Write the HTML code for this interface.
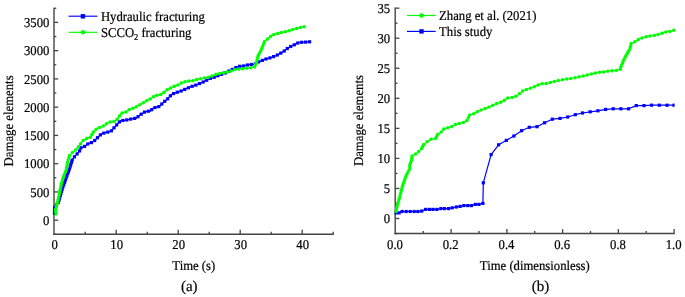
<!DOCTYPE html>
<html lang="en"><head><meta charset="utf-8"><title>Damage elements</title>
<style>html,body{margin:0;padding:0;background:#fff}body{width:685px;height:297px;overflow:hidden}text{stroke:#000;stroke-width:.2px}</style>
</head><body>
<svg width="685" height="297" viewBox="0 0 685 297" style="display:block" font-family="'Liberation Serif', serif" font-size="13.5" fill="#000" text-rendering="geometricPrecision">
<rect width="685" height="297" fill="#fff"/>
<path d="M54.00,7.67V234.90" stroke="#444" stroke-width="1.4" fill="none"/><path d="M53.30,234.20H333.80" stroke="#444" stroke-width="1.5" fill="none"/><path d="M54.00,220.20h4.2" stroke="#444" stroke-width="1.3"/><path d="M54.00,191.94h4.2" stroke="#444" stroke-width="1.3"/><path d="M54.00,163.69h4.2" stroke="#444" stroke-width="1.3"/><path d="M54.00,135.43h4.2" stroke="#444" stroke-width="1.3"/><path d="M54.00,107.17h4.2" stroke="#444" stroke-width="1.3"/><path d="M54.00,78.91h4.2" stroke="#444" stroke-width="1.3"/><path d="M54.00,50.66h4.2" stroke="#444" stroke-width="1.3"/><path d="M54.00,22.40h4.2" stroke="#444" stroke-width="1.3"/><path d="M54.00,234.33h2.3" stroke="#444" stroke-width="1.3"/><path d="M54.00,206.07h2.3" stroke="#444" stroke-width="1.3"/><path d="M54.00,177.81h2.3" stroke="#444" stroke-width="1.3"/><path d="M54.00,149.56h2.3" stroke="#444" stroke-width="1.3"/><path d="M54.00,121.30h2.3" stroke="#444" stroke-width="1.3"/><path d="M54.00,93.04h2.3" stroke="#444" stroke-width="1.3"/><path d="M54.00,64.79h2.3" stroke="#444" stroke-width="1.3"/><path d="M54.00,36.53h2.3" stroke="#444" stroke-width="1.3"/><path d="M54.00,8.27h2.3" stroke="#444" stroke-width="1.3"/><path d="M116.20,234.20v-4.4" stroke="#444" stroke-width="1.3"/><path d="M178.20,234.20v-4.4" stroke="#444" stroke-width="1.3"/><path d="M240.20,234.20v-4.4" stroke="#444" stroke-width="1.3"/><path d="M302.20,234.20v-4.4" stroke="#444" stroke-width="1.3"/><path d="M85.20,234.20v-2.5" stroke="#444" stroke-width="1.3"/><path d="M147.20,234.20v-2.5" stroke="#444" stroke-width="1.3"/><path d="M209.20,234.20v-2.5" stroke="#444" stroke-width="1.3"/><path d="M271.20,234.20v-2.5" stroke="#444" stroke-width="1.3"/><path d="M333.20,234.20v-2.5" stroke="#444" stroke-width="1.3"/><text transform="translate(54.7,249.3) scale(0.94,1)" text-anchor="middle">0</text><text transform="translate(116.7,249.3) scale(0.94,1)" text-anchor="middle">10</text><text transform="translate(178.7,249.3) scale(0.94,1)" text-anchor="middle">20</text><text transform="translate(240.7,249.3) scale(0.94,1)" text-anchor="middle">30</text><text transform="translate(302.7,249.3) scale(0.94,1)" text-anchor="middle">40</text><text transform="translate(49.4,224.8) scale(0.94,1)" text-anchor="end">0</text><text transform="translate(49.4,196.5) scale(0.94,1)" text-anchor="end">500</text><text transform="translate(49.4,168.3) scale(0.94,1)" text-anchor="end">1000</text><text transform="translate(49.4,140.0) scale(0.94,1)" text-anchor="end">1500</text><text transform="translate(49.4,111.8) scale(0.94,1)" text-anchor="end">2000</text><text transform="translate(49.4,83.5) scale(0.94,1)" text-anchor="end">2500</text><text transform="translate(49.4,55.3) scale(0.94,1)" text-anchor="end">3000</text><text transform="translate(49.4,27.0) scale(0.94,1)" text-anchor="end">3500</text>
<polyline points="54.5,213.2 54.6,207.5 56.5,205.0 58.3,202.5 60.2,196.0 62.2,189.0 64.1,183.7 65.9,178.3 67.5,174.2 69.5,168.9 70.9,164.1 72.2,160.1 74.9,156.1 77.6,153.4 79.6,150.9 80.9,147.8 84.9,146.3 88.3,143.5 91.0,142.9 94.3,140.9 97.7,137.5 101.1,134.2 105.1,132.6 108.5,131.9 110.9,131.3 112.7,129.2 115.6,126.2 118.0,123.3 120.4,120.9 124.5,120.3 129.2,119.4 132.7,118.6 136.3,118.2 139.2,115.6 142.2,113.5 145.4,111.6 150.4,111.0 153.4,108.0 159.5,106.4 163.5,102.3 167.6,98.9 171.6,94.4 176.7,92.4 181.7,90.8 186.8,88.4 191.8,86.4 196.9,84.7 201.9,82.7 205.0,81.1 210.1,78.5 215.2,76.9 220.2,74.8 225.3,72.8 230.3,70.4 234.3,68.4 238.4,66.4 243.4,66.0 248.5,64.7 254.5,64.3 258.6,61.9 264.6,59.4 270.3,57.8 275.6,55.8 280.0,53.6 283.7,51.4 287.3,48.5 290.9,46.4 295.5,44.2 299.1,42.4 303.6,42.2 309.6,41.8" fill="none" stroke="#0000ff" stroke-width="1.3" stroke-linejoin="round" stroke-linecap="square"/>
<g stroke="none"><rect x="52.9" y="211.6" width="3.2" height="3.2" fill="#0000ff"/><rect x="52.9" y="208.8" width="3.2" height="3.2" fill="#0000ff"/><rect x="53.0" y="205.9" width="3.2" height="3.2" fill="#0000ff"/><rect x="54.9" y="203.4" width="3.2" height="3.2" fill="#0000ff"/><rect x="56.7" y="200.9" width="3.2" height="3.2" fill="#0000ff"/><rect x="57.4" y="198.6" width="3.2" height="3.2" fill="#0000ff"/><rect x="58.0" y="196.4" width="3.2" height="3.2" fill="#0000ff"/><rect x="58.7" y="194.1" width="3.2" height="3.2" fill="#0000ff"/><rect x="59.3" y="191.9" width="3.2" height="3.2" fill="#0000ff"/><rect x="60.0" y="189.6" width="3.2" height="3.2" fill="#0000ff"/><rect x="60.6" y="187.4" width="3.2" height="3.2" fill="#0000ff"/><rect x="61.4" y="185.1" width="3.2" height="3.2" fill="#0000ff"/><rect x="62.2" y="182.9" width="3.2" height="3.2" fill="#0000ff"/><rect x="63.0" y="180.7" width="3.2" height="3.2" fill="#0000ff"/><rect x="63.7" y="178.5" width="3.2" height="3.2" fill="#0000ff"/><rect x="64.5" y="176.3" width="3.2" height="3.2" fill="#0000ff"/><rect x="65.3" y="174.1" width="3.2" height="3.2" fill="#0000ff"/><rect x="66.2" y="171.9" width="3.2" height="3.2" fill="#0000ff"/><rect x="67.0" y="169.7" width="3.2" height="3.2" fill="#0000ff"/><rect x="67.8" y="167.5" width="3.2" height="3.2" fill="#0000ff"/><rect x="68.5" y="165.2" width="3.2" height="3.2" fill="#0000ff"/><rect x="69.2" y="163.0" width="3.2" height="3.2" fill="#0000ff"/><rect x="69.9" y="160.7" width="3.2" height="3.2" fill="#0000ff"/><rect x="70.6" y="158.5" width="3.2" height="3.2" fill="#0000ff"/><rect x="72.8" y="155.2" width="3.2" height="3.2" fill="#0000ff"/><rect x="75.5" y="152.3" width="3.2" height="3.2" fill="#0000ff"/><rect x="78.0" y="149.3" width="3.2" height="3.2" fill="#0000ff"/><rect x="79.3" y="146.2" width="3.2" height="3.2" fill="#0000ff"/><rect x="83.0" y="144.8" width="3.2" height="3.2" fill="#0000ff"/><rect x="86.1" y="142.4" width="3.2" height="3.2" fill="#0000ff"/><rect x="89.8" y="141.0" width="3.2" height="3.2" fill="#0000ff"/><rect x="93.1" y="138.9" width="3.2" height="3.2" fill="#0000ff"/><rect x="95.9" y="136.1" width="3.2" height="3.2" fill="#0000ff"/><rect x="98.8" y="133.3" width="3.2" height="3.2" fill="#0000ff"/><rect x="102.3" y="131.5" width="3.2" height="3.2" fill="#0000ff"/><rect x="106.1" y="130.5" width="3.2" height="3.2" fill="#0000ff"/><rect x="109.8" y="129.2" width="3.2" height="3.2" fill="#0000ff"/><rect x="112.4" y="126.2" width="3.2" height="3.2" fill="#0000ff"/><rect x="115.1" y="123.3" width="3.2" height="3.2" fill="#0000ff"/><rect x="117.8" y="120.3" width="3.2" height="3.2" fill="#0000ff"/><rect x="121.3" y="118.9" width="3.2" height="3.2" fill="#0000ff"/><rect x="125.2" y="118.3" width="3.2" height="3.2" fill="#0000ff"/><rect x="129.1" y="117.5" width="3.2" height="3.2" fill="#0000ff"/><rect x="133.0" y="116.8" width="3.2" height="3.2" fill="#0000ff"/><rect x="136.4" y="115.1" width="3.2" height="3.2" fill="#0000ff"/><rect x="139.6" y="112.6" width="3.2" height="3.2" fill="#0000ff"/><rect x="142.9" y="110.5" width="3.2" height="3.2" fill="#0000ff"/><rect x="146.7" y="109.6" width="3.2" height="3.2" fill="#0000ff"/><rect x="150.1" y="108.1" width="3.2" height="3.2" fill="#0000ff"/><rect x="153.4" y="106.0" width="3.2" height="3.2" fill="#0000ff"/><rect x="157.2" y="105.0" width="3.2" height="3.2" fill="#0000ff"/><rect x="160.2" y="102.4" width="3.2" height="3.2" fill="#0000ff"/><rect x="163.1" y="99.7" width="3.2" height="3.2" fill="#0000ff"/><rect x="166.1" y="97.2" width="3.2" height="3.2" fill="#0000ff"/><rect x="168.8" y="94.2" width="3.2" height="3.2" fill="#0000ff"/><rect x="172.0" y="92.0" width="3.2" height="3.2" fill="#0000ff"/><rect x="175.7" y="90.6" width="3.2" height="3.2" fill="#0000ff"/><rect x="179.5" y="89.4" width="3.2" height="3.2" fill="#0000ff"/><rect x="183.1" y="87.8" width="3.2" height="3.2" fill="#0000ff"/><rect x="186.8" y="86.2" width="3.2" height="3.2" fill="#0000ff"/><rect x="190.5" y="84.7" width="3.2" height="3.2" fill="#0000ff"/><rect x="194.2" y="83.5" width="3.2" height="3.2" fill="#0000ff"/><rect x="197.9" y="82.0" width="3.2" height="3.2" fill="#0000ff"/><rect x="201.6" y="80.4" width="3.2" height="3.2" fill="#0000ff"/><rect x="205.1" y="78.6" width="3.2" height="3.2" fill="#0000ff"/><rect x="208.7" y="76.8" width="3.2" height="3.2" fill="#0000ff"/><rect x="212.5" y="75.7" width="3.2" height="3.2" fill="#0000ff"/><rect x="216.2" y="74.2" width="3.2" height="3.2" fill="#0000ff"/><rect x="219.9" y="72.7" width="3.2" height="3.2" fill="#0000ff"/><rect x="223.6" y="71.3" width="3.2" height="3.2" fill="#0000ff"/><rect x="227.2" y="69.5" width="3.2" height="3.2" fill="#0000ff"/><rect x="230.7" y="67.8" width="3.2" height="3.2" fill="#0000ff"/><rect x="234.3" y="66.0" width="3.2" height="3.2" fill="#0000ff"/><rect x="238.0" y="64.7" width="3.2" height="3.2" fill="#0000ff"/><rect x="241.9" y="64.4" width="3.2" height="3.2" fill="#0000ff"/><rect x="245.8" y="63.4" width="3.2" height="3.2" fill="#0000ff"/><rect x="249.7" y="62.9" width="3.2" height="3.2" fill="#0000ff"/><rect x="253.6" y="62.3" width="3.2" height="3.2" fill="#0000ff"/><rect x="257.0" y="60.3" width="3.2" height="3.2" fill="#0000ff"/><rect x="260.7" y="58.8" width="3.2" height="3.2" fill="#0000ff"/><rect x="264.4" y="57.4" width="3.2" height="3.2" fill="#0000ff"/><rect x="268.3" y="56.3" width="3.2" height="3.2" fill="#0000ff"/><rect x="272.0" y="55.0" width="3.2" height="3.2" fill="#0000ff"/><rect x="275.7" y="53.4" width="3.2" height="3.2" fill="#0000ff"/><rect x="279.2" y="51.5" width="3.2" height="3.2" fill="#0000ff"/><rect x="282.6" y="49.4" width="3.2" height="3.2" fill="#0000ff"/><rect x="285.7" y="46.9" width="3.2" height="3.2" fill="#0000ff"/><rect x="289.1" y="44.9" width="3.2" height="3.2" fill="#0000ff"/><rect x="292.7" y="43.2" width="3.2" height="3.2" fill="#0000ff"/><rect x="296.2" y="41.4" width="3.2" height="3.2" fill="#0000ff"/><rect x="300.1" y="40.7" width="3.2" height="3.2" fill="#0000ff"/><rect x="304.0" y="40.5" width="3.2" height="3.2" fill="#0000ff"/><rect x="308.0" y="40.2" width="3.2" height="3.2" fill="#0000ff"/></g>
<polyline points="55.9,213.9 55.3,210.3 56.5,206.2 57.7,201.5 58.5,198.0 59.4,193.2 60.3,189.1 61.4,183.7 62.8,179.0 64.1,174.9 66.2,170.2 67.2,164.1 68.2,160.1 69.5,155.4 71.5,153.4 74.2,151.3 76.3,149.5 80.3,144.2 83.3,140.2 87.4,138.2 90.4,137.2 93.4,132.1 97.5,128.1 102.5,126.5 105.6,124.5 108.0,122.7 110.9,121.9 114.5,121.3 116.8,119.7 119.2,116.2 121.5,113.3 125.1,112.3 129.2,109.7 132.7,108.3 136.3,106.8 140.4,104.6 145.4,101.3 150.4,98.9 155.5,95.3 159.5,95.3 163.5,92.8 167.6,89.4 172.6,86.8 177.7,85.1 182.7,82.3 187.8,81.1 192.8,80.7 197.9,79.1 202.9,78.3 209.0,77.0 215.2,74.8 220.2,73.4 225.3,72.4 230.3,71.4 235.4,69.4 240.4,69.0 245.5,68.4 250.5,67.8 254.5,67.0 256.5,62.5 258.4,55.0 261.2,50.0 264.5,41.5 268.4,38.1 272.7,35.0 277.5,33.4 282.7,32.4 288.5,30.9 294.5,28.9 299.1,27.8 304.2,26.7" fill="none" stroke="#00ff00" stroke-width="1.3" stroke-linejoin="round" stroke-linecap="round"/>
<g stroke="none"><circle cx="55.9" cy="213.9" r="1.75" fill="#00ff00"/><circle cx="55.5" cy="211.5" r="1.75" fill="#00ff00"/><circle cx="55.6" cy="209.2" r="1.75" fill="#00ff00"/><circle cx="56.3" cy="206.8" r="1.75" fill="#00ff00"/><circle cx="56.9" cy="204.5" r="1.75" fill="#00ff00"/><circle cx="57.5" cy="202.2" r="1.75" fill="#00ff00"/><circle cx="58.1" cy="199.8" r="1.75" fill="#00ff00"/><circle cx="58.6" cy="197.4" r="1.75" fill="#00ff00"/><circle cx="59.1" cy="195.1" r="1.75" fill="#00ff00"/><circle cx="59.5" cy="192.7" r="1.75" fill="#00ff00"/><circle cx="60.0" cy="190.3" r="1.75" fill="#00ff00"/><circle cx="60.5" cy="188.0" r="1.75" fill="#00ff00"/><circle cx="61.0" cy="185.6" r="1.75" fill="#00ff00"/><circle cx="61.5" cy="183.2" r="1.75" fill="#00ff00"/><circle cx="62.2" cy="180.9" r="1.75" fill="#00ff00"/><circle cx="62.9" cy="178.6" r="1.75" fill="#00ff00"/><circle cx="63.7" cy="176.3" r="1.75" fill="#00ff00"/><circle cx="64.5" cy="174.0" r="1.75" fill="#00ff00"/><circle cx="65.5" cy="171.8" r="1.75" fill="#00ff00"/><circle cx="66.3" cy="169.5" r="1.75" fill="#00ff00"/><circle cx="66.7" cy="167.2" r="1.75" fill="#00ff00"/><circle cx="67.1" cy="164.8" r="1.75" fill="#00ff00"/><circle cx="67.6" cy="162.4" r="1.75" fill="#00ff00"/><circle cx="68.2" cy="160.1" r="1.75" fill="#00ff00"/><circle cx="68.9" cy="157.7" r="1.75" fill="#00ff00"/><circle cx="69.5" cy="155.4" r="1.75" fill="#00ff00"/><circle cx="72.5" cy="152.6" r="1.75" fill="#00ff00"/><circle cx="75.6" cy="150.1" r="1.75" fill="#00ff00"/><circle cx="78.2" cy="147.0" r="1.75" fill="#00ff00"/><circle cx="80.6" cy="143.8" r="1.75" fill="#00ff00"/><circle cx="83.1" cy="140.5" r="1.75" fill="#00ff00"/><circle cx="86.6" cy="138.6" r="1.75" fill="#00ff00"/><circle cx="90.4" cy="137.2" r="1.75" fill="#00ff00"/><circle cx="91.9" cy="134.6" r="1.75" fill="#00ff00"/><circle cx="93.4" cy="132.1" r="1.75" fill="#00ff00"/><circle cx="96.2" cy="129.3" r="1.75" fill="#00ff00"/><circle cx="99.6" cy="127.4" r="1.75" fill="#00ff00"/><circle cx="103.3" cy="126.0" r="1.75" fill="#00ff00"/><circle cx="106.5" cy="123.8" r="1.75" fill="#00ff00"/><circle cx="110.1" cy="122.1" r="1.75" fill="#00ff00"/><circle cx="114.0" cy="121.4" r="1.75" fill="#00ff00"/><circle cx="117.1" cy="119.2" r="1.75" fill="#00ff00"/><circle cx="119.4" cy="115.9" r="1.75" fill="#00ff00"/><circle cx="122.1" cy="113.1" r="1.75" fill="#00ff00"/><circle cx="125.8" cy="111.9" r="1.75" fill="#00ff00"/><circle cx="129.1" cy="109.7" r="1.75" fill="#00ff00"/><circle cx="132.8" cy="108.3" r="1.75" fill="#00ff00"/><circle cx="136.4" cy="106.7" r="1.75" fill="#00ff00"/><circle cx="139.9" cy="104.8" r="1.75" fill="#00ff00"/><circle cx="143.3" cy="102.7" r="1.75" fill="#00ff00"/><circle cx="146.7" cy="100.7" r="1.75" fill="#00ff00"/><circle cx="150.2" cy="99.0" r="1.75" fill="#00ff00"/><circle cx="153.5" cy="96.7" r="1.75" fill="#00ff00"/><circle cx="157.0" cy="95.3" r="1.75" fill="#00ff00"/><circle cx="160.7" cy="94.5" r="1.75" fill="#00ff00"/><circle cx="164.0" cy="92.3" r="1.75" fill="#00ff00"/><circle cx="167.1" cy="89.8" r="1.75" fill="#00ff00"/><circle cx="170.5" cy="87.9" r="1.75" fill="#00ff00"/><circle cx="174.1" cy="86.3" r="1.75" fill="#00ff00"/><circle cx="177.9" cy="85.0" r="1.75" fill="#00ff00"/><circle cx="181.3" cy="83.1" r="1.75" fill="#00ff00"/><circle cx="185.0" cy="81.7" r="1.75" fill="#00ff00"/><circle cx="188.9" cy="81.0" r="1.75" fill="#00ff00"/><circle cx="192.9" cy="80.7" r="1.75" fill="#00ff00"/><circle cx="196.7" cy="79.5" r="1.75" fill="#00ff00"/><circle cx="200.5" cy="78.7" r="1.75" fill="#00ff00"/><circle cx="204.4" cy="78.0" r="1.75" fill="#00ff00"/><circle cx="208.3" cy="77.2" r="1.75" fill="#00ff00"/><circle cx="212.0" cy="75.9" r="1.75" fill="#00ff00"/><circle cx="215.8" cy="74.6" r="1.75" fill="#00ff00"/><circle cx="219.6" cy="73.6" r="1.75" fill="#00ff00"/><circle cx="223.5" cy="72.8" r="1.75" fill="#00ff00"/><circle cx="227.4" cy="72.0" r="1.75" fill="#00ff00"/><circle cx="231.2" cy="71.0" r="1.75" fill="#00ff00"/><circle cx="234.9" cy="69.6" r="1.75" fill="#00ff00"/><circle cx="238.8" cy="69.1" r="1.75" fill="#00ff00"/><circle cx="242.7" cy="68.7" r="1.75" fill="#00ff00"/><circle cx="246.7" cy="68.3" r="1.75" fill="#00ff00"/><circle cx="250.6" cy="67.8" r="1.75" fill="#00ff00"/><circle cx="254.5" cy="67.0" r="1.75" fill="#00ff00"/><circle cx="255.5" cy="64.7" r="1.75" fill="#00ff00"/><circle cx="256.5" cy="62.4" r="1.75" fill="#00ff00"/><circle cx="257.1" cy="60.0" r="1.75" fill="#00ff00"/><circle cx="257.7" cy="57.6" r="1.75" fill="#00ff00"/><circle cx="258.4" cy="55.2" r="1.75" fill="#00ff00"/><circle cx="259.5" cy="53.0" r="1.75" fill="#00ff00"/><circle cx="260.8" cy="50.8" r="1.75" fill="#00ff00"/><circle cx="261.8" cy="48.5" r="1.75" fill="#00ff00"/><circle cx="262.7" cy="46.2" r="1.75" fill="#00ff00"/><circle cx="263.6" cy="43.8" r="1.75" fill="#00ff00"/><circle cx="264.5" cy="41.5" r="1.75" fill="#00ff00"/><circle cx="267.5" cy="38.9" r="1.75" fill="#00ff00"/><circle cx="270.6" cy="36.5" r="1.75" fill="#00ff00"/><circle cx="273.9" cy="34.6" r="1.75" fill="#00ff00"/><circle cx="277.6" cy="33.4" r="1.75" fill="#00ff00"/><circle cx="281.5" cy="32.6" r="1.75" fill="#00ff00"/><circle cx="285.3" cy="31.7" r="1.75" fill="#00ff00"/><circle cx="289.1" cy="30.7" r="1.75" fill="#00ff00"/><circle cx="292.8" cy="29.5" r="1.75" fill="#00ff00"/><circle cx="296.6" cy="28.4" r="1.75" fill="#00ff00"/><circle cx="300.4" cy="27.5" r="1.75" fill="#00ff00"/><circle cx="304.2" cy="26.7" r="1.75" fill="#00ff00"/></g>
<path d="M68.6,16.2H97.4" stroke="#0000ff" stroke-width="1.15"/><rect x="80.7" y="14.1" width="4.4" height="4.4" fill="#0000ff"/>
<path d="M68.6,32.3H97.4" stroke="#00ff00" stroke-width="1.15"/><circle cx="82.9" cy="32.3" r="2.3" fill="#00ff00"/>
<text transform="translate(100.9,20.7) scale(0.94,1)">Hydraulic fracturing</text>
<text transform="translate(100.9,36.8) scale(0.94,1)">SCCO<tspan font-size="8.8" dy="3">2</tspan><tspan dy="-3"> fracturing</tspan></text>
<text transform="translate(12.5,120.9) rotate(-90) scale(0.945,1)" text-anchor="middle">Damage elements</text>
<text transform="translate(193.8,269.7) scale(0.94,1)" text-anchor="middle">Time (s)</text>
<text transform="translate(189.3,290.9) scale(1,1)" text-anchor="middle" font-size="15">(a)</text>
<path d="M395.20,7.55V234.20" stroke="#444" stroke-width="1.4" fill="none"/><path d="M394.50,233.50H674.70" stroke="#444" stroke-width="1.5" fill="none"/><path d="M395.20,218.50h4.2" stroke="#444" stroke-width="1.3"/><path d="M395.20,188.45h4.2" stroke="#444" stroke-width="1.3"/><path d="M395.20,158.40h4.2" stroke="#444" stroke-width="1.3"/><path d="M395.20,128.35h4.2" stroke="#444" stroke-width="1.3"/><path d="M395.20,98.30h4.2" stroke="#444" stroke-width="1.3"/><path d="M395.20,68.25h4.2" stroke="#444" stroke-width="1.3"/><path d="M395.20,38.20h4.2" stroke="#444" stroke-width="1.3"/><path d="M395.20,8.15h4.2" stroke="#444" stroke-width="1.3"/><path d="M395.20,233.53h2.3" stroke="#444" stroke-width="1.3"/><path d="M395.20,203.47h2.3" stroke="#444" stroke-width="1.3"/><path d="M395.20,173.43h2.3" stroke="#444" stroke-width="1.3"/><path d="M395.20,143.38h2.3" stroke="#444" stroke-width="1.3"/><path d="M395.20,113.33h2.3" stroke="#444" stroke-width="1.3"/><path d="M395.20,83.28h2.3" stroke="#444" stroke-width="1.3"/><path d="M395.20,53.22h2.3" stroke="#444" stroke-width="1.3"/><path d="M395.20,23.18h2.3" stroke="#444" stroke-width="1.3"/><path d="M451.14,233.50v-4.4" stroke="#444" stroke-width="1.3"/><path d="M506.88,233.50v-4.4" stroke="#444" stroke-width="1.3"/><path d="M562.62,233.50v-4.4" stroke="#444" stroke-width="1.3"/><path d="M618.36,233.50v-4.4" stroke="#444" stroke-width="1.3"/><path d="M674.10,233.50v-4.4" stroke="#444" stroke-width="1.3"/><path d="M423.27,233.50v-2.5" stroke="#444" stroke-width="1.3"/><path d="M479.01,233.50v-2.5" stroke="#444" stroke-width="1.3"/><path d="M534.75,233.50v-2.5" stroke="#444" stroke-width="1.3"/><path d="M590.49,233.50v-2.5" stroke="#444" stroke-width="1.3"/><path d="M646.23,233.50v-2.5" stroke="#444" stroke-width="1.3"/><text transform="translate(395.0,248.8) scale(0.94,1)" text-anchor="middle">0.0</text><text transform="translate(450.7,248.8) scale(0.94,1)" text-anchor="middle">0.2</text><text transform="translate(506.5,248.8) scale(0.94,1)" text-anchor="middle">0.4</text><text transform="translate(562.2,248.8) scale(0.94,1)" text-anchor="middle">0.6</text><text transform="translate(618.0,248.8) scale(0.94,1)" text-anchor="middle">0.8</text><text transform="translate(673.7,248.8) scale(0.94,1)" text-anchor="middle">1.0</text><text transform="translate(390.2,223.1) scale(0.94,1)" text-anchor="end">0</text><text transform="translate(390.2,193.0) scale(0.94,1)" text-anchor="end">5</text><text transform="translate(390.2,163.0) scale(0.94,1)" text-anchor="end">10</text><text transform="translate(390.2,133.0) scale(0.94,1)" text-anchor="end">15</text><text transform="translate(390.2,102.9) scale(0.94,1)" text-anchor="end">20</text><text transform="translate(390.2,72.8) scale(0.94,1)" text-anchor="end">25</text><text transform="translate(390.2,42.8) scale(0.94,1)" text-anchor="end">30</text><text transform="translate(390.2,12.8) scale(0.94,1)" text-anchor="end">35</text>
<polyline points="396.1,212.9 399.1,212.9 402.1,211.5 406.2,211.5 410.2,211.5 414.2,211.5 417.9,211.5 421.7,211.1 425.6,209.4 429.4,209.4 433.0,209.4 436.9,209.4 440.9,208.6 444.5,208.6 448.6,208.6 452.2,207.8 456.3,207.0 460.1,206.4 463.9,205.6 467.8,205.6 471.4,205.6 475.3,204.4 478.9,204.4 482.9,203.4 483.3,182.8 491.1,154.6 498.6,144.8 506.3,140.4 513.9,136.0 521.6,130.7 529.3,127.3 537.0,126.7 544.6,122.8 552.3,119.2 560.0,118.4 567.7,117.0 575.3,114.7 582.5,113.0 590.2,111.8 597.9,110.8 605.6,109.4 613.2,108.8 620.9,108.8 628.6,108.8 636.3,105.6 644.0,105.6 651.6,105.2 659.3,105.2 667.0,105.2 674.0,105.2" fill="none" stroke="#0000ff" stroke-width="1.2" stroke-linejoin="round"/>
<g stroke="none"><rect x="394.5" y="211.3" width="3.2" height="3.2" fill="#0000ff"/><rect x="397.5" y="211.3" width="3.2" height="3.2" fill="#0000ff"/><rect x="400.5" y="209.9" width="3.2" height="3.2" fill="#0000ff"/><rect x="404.6" y="209.9" width="3.2" height="3.2" fill="#0000ff"/><rect x="408.6" y="209.9" width="3.2" height="3.2" fill="#0000ff"/><rect x="412.6" y="209.9" width="3.2" height="3.2" fill="#0000ff"/><rect x="416.3" y="209.9" width="3.2" height="3.2" fill="#0000ff"/><rect x="420.1" y="209.5" width="3.2" height="3.2" fill="#0000ff"/><rect x="424.0" y="207.8" width="3.2" height="3.2" fill="#0000ff"/><rect x="427.8" y="207.8" width="3.2" height="3.2" fill="#0000ff"/><rect x="431.4" y="207.8" width="3.2" height="3.2" fill="#0000ff"/><rect x="435.3" y="207.8" width="3.2" height="3.2" fill="#0000ff"/><rect x="439.3" y="207.0" width="3.2" height="3.2" fill="#0000ff"/><rect x="442.9" y="207.0" width="3.2" height="3.2" fill="#0000ff"/><rect x="447.0" y="207.0" width="3.2" height="3.2" fill="#0000ff"/><rect x="450.6" y="206.2" width="3.2" height="3.2" fill="#0000ff"/><rect x="454.7" y="205.4" width="3.2" height="3.2" fill="#0000ff"/><rect x="458.5" y="204.8" width="3.2" height="3.2" fill="#0000ff"/><rect x="462.3" y="204.0" width="3.2" height="3.2" fill="#0000ff"/><rect x="466.2" y="204.0" width="3.2" height="3.2" fill="#0000ff"/><rect x="469.8" y="204.0" width="3.2" height="3.2" fill="#0000ff"/><rect x="473.7" y="202.8" width="3.2" height="3.2" fill="#0000ff"/><rect x="477.3" y="202.8" width="3.2" height="3.2" fill="#0000ff"/><rect x="481.3" y="201.8" width="3.2" height="3.2" fill="#0000ff"/><rect x="481.7" y="181.2" width="3.2" height="3.2" fill="#0000ff"/><rect x="489.5" y="153.0" width="3.2" height="3.2" fill="#0000ff"/><rect x="497.0" y="143.2" width="3.2" height="3.2" fill="#0000ff"/><rect x="504.7" y="138.8" width="3.2" height="3.2" fill="#0000ff"/><rect x="512.3" y="134.4" width="3.2" height="3.2" fill="#0000ff"/><rect x="520.0" y="129.1" width="3.2" height="3.2" fill="#0000ff"/><rect x="527.7" y="125.7" width="3.2" height="3.2" fill="#0000ff"/><rect x="535.4" y="125.1" width="3.2" height="3.2" fill="#0000ff"/><rect x="543.0" y="121.2" width="3.2" height="3.2" fill="#0000ff"/><rect x="550.7" y="117.6" width="3.2" height="3.2" fill="#0000ff"/><rect x="558.4" y="116.8" width="3.2" height="3.2" fill="#0000ff"/><rect x="566.1" y="115.4" width="3.2" height="3.2" fill="#0000ff"/><rect x="573.7" y="113.1" width="3.2" height="3.2" fill="#0000ff"/><rect x="580.9" y="111.4" width="3.2" height="3.2" fill="#0000ff"/><rect x="588.6" y="110.2" width="3.2" height="3.2" fill="#0000ff"/><rect x="596.3" y="109.2" width="3.2" height="3.2" fill="#0000ff"/><rect x="604.0" y="107.8" width="3.2" height="3.2" fill="#0000ff"/><rect x="611.6" y="107.2" width="3.2" height="3.2" fill="#0000ff"/><rect x="619.3" y="107.2" width="3.2" height="3.2" fill="#0000ff"/><rect x="627.0" y="107.2" width="3.2" height="3.2" fill="#0000ff"/><rect x="634.7" y="104.0" width="3.2" height="3.2" fill="#0000ff"/><rect x="642.4" y="104.0" width="3.2" height="3.2" fill="#0000ff"/><rect x="650.0" y="103.6" width="3.2" height="3.2" fill="#0000ff"/><rect x="657.7" y="103.6" width="3.2" height="3.2" fill="#0000ff"/><rect x="665.4" y="103.6" width="3.2" height="3.2" fill="#0000ff"/></g>
<rect x="672.4" y="103.6" width="2.2" height="3.2" fill="#0000ff"/>
<polyline points="396.1,211.5 396.7,207.4 398.1,202.4 399.7,197.3 401.1,191.3 402.5,186.2 404.1,181.2 406.2,175.1 408.6,171.1 409.8,168.5 409.7,164.6 411.5,160.4 412.1,155.9 415.1,154.5 418.5,151.6 421.6,148.6 423.7,144.6 427.5,141.5 431.4,139.0 435.5,138.4 437.8,134.3 441.2,132.0 443.4,129.0 448.6,127.6 453.0,125.9 455.5,124.3 458.9,123.5 463.1,122.5 466.9,120.4 469.7,115.1 474.2,113.5 479.1,110.7 485.2,108.5 490.2,106.5 495.3,104.0 500.3,102.4 504.3,100.4 508.0,97.8 512.4,97.4 516.5,96.0 520.1,93.3 522.9,90.7 526.6,89.3 530.6,88.3 534.6,86.7 538.7,84.6 542.7,83.6 546.8,83.6 551.8,81.8 555.9,81.2 560.5,80.2 565.5,79.1 569.9,78.7 574.2,78.0 579.7,76.5 584.1,75.8 588.5,74.7 592.8,73.6 597.2,72.5 601.6,72.1 604.9,71.9 608.6,71.0 612.5,70.8 616.5,70.4 620.2,69.3 621.3,66.0 623.5,60.5 625.7,56.1 628.3,51.7 630.5,47.4 631.1,43.6 635.5,41.5 638.8,39.3 643.2,37.5 646.5,36.6 649.8,36.0 653.0,35.8 656.3,34.9 659.6,34.2 664.0,32.5 667.3,31.4 670.6,31.4 673.8,30.3" fill="none" stroke="#00ff00" stroke-width="1.1" stroke-linejoin="round" stroke-linecap="round"/>
<g stroke="none"><circle cx="396.1" cy="211.5" r="1.75" fill="#00ff00"/><circle cx="396.5" cy="209.1" r="1.75" fill="#00ff00"/><circle cx="396.9" cy="206.7" r="1.75" fill="#00ff00"/><circle cx="397.6" cy="204.4" r="1.75" fill="#00ff00"/><circle cx="398.2" cy="202.0" r="1.75" fill="#00ff00"/><circle cx="398.9" cy="199.7" r="1.75" fill="#00ff00"/><circle cx="399.7" cy="197.4" r="1.75" fill="#00ff00"/><circle cx="400.2" cy="195.0" r="1.75" fill="#00ff00"/><circle cx="400.8" cy="192.6" r="1.75" fill="#00ff00"/><circle cx="401.4" cy="190.3" r="1.75" fill="#00ff00"/><circle cx="402.0" cy="187.9" r="1.75" fill="#00ff00"/><circle cx="402.7" cy="185.6" r="1.75" fill="#00ff00"/><circle cx="403.4" cy="183.3" r="1.75" fill="#00ff00"/><circle cx="404.2" cy="181.0" r="1.75" fill="#00ff00"/><circle cx="405.0" cy="178.7" r="1.75" fill="#00ff00"/><circle cx="405.8" cy="176.4" r="1.75" fill="#00ff00"/><circle cx="406.8" cy="174.2" r="1.75" fill="#00ff00"/><circle cx="408.0" cy="172.1" r="1.75" fill="#00ff00"/><circle cx="409.1" cy="169.9" r="1.75" fill="#00ff00"/><circle cx="409.8" cy="167.7" r="1.75" fill="#00ff00"/><circle cx="409.7" cy="165.2" r="1.75" fill="#00ff00"/><circle cx="410.4" cy="162.9" r="1.75" fill="#00ff00"/><circle cx="411.4" cy="160.7" r="1.75" fill="#00ff00"/><circle cx="411.8" cy="158.3" r="1.75" fill="#00ff00"/><circle cx="412.1" cy="155.9" r="1.75" fill="#00ff00"/><circle cx="415.6" cy="154.0" r="1.75" fill="#00ff00"/><circle cx="418.7" cy="151.4" r="1.75" fill="#00ff00"/><circle cx="421.6" cy="148.6" r="1.75" fill="#00ff00"/><circle cx="422.6" cy="146.6" r="1.75" fill="#00ff00"/><circle cx="423.7" cy="144.6" r="1.75" fill="#00ff00"/><circle cx="427.2" cy="141.7" r="1.75" fill="#00ff00"/><circle cx="431.0" cy="139.2" r="1.75" fill="#00ff00"/><circle cx="435.5" cy="138.4" r="1.75" fill="#00ff00"/><circle cx="436.6" cy="136.4" r="1.75" fill="#00ff00"/><circle cx="437.8" cy="134.3" r="1.75" fill="#00ff00"/><circle cx="441.2" cy="132.0" r="1.75" fill="#00ff00"/><circle cx="443.8" cy="128.9" r="1.75" fill="#00ff00"/><circle cx="447.8" cy="127.8" r="1.75" fill="#00ff00"/><circle cx="451.7" cy="126.4" r="1.75" fill="#00ff00"/><circle cx="455.3" cy="124.4" r="1.75" fill="#00ff00"/><circle cx="459.3" cy="123.4" r="1.75" fill="#00ff00"/><circle cx="463.3" cy="122.4" r="1.75" fill="#00ff00"/><circle cx="466.9" cy="120.4" r="1.75" fill="#00ff00"/><circle cx="468.3" cy="117.8" r="1.75" fill="#00ff00"/><circle cx="469.7" cy="115.1" r="1.75" fill="#00ff00"/><circle cx="473.7" cy="113.7" r="1.75" fill="#00ff00"/><circle cx="477.3" cy="111.7" r="1.75" fill="#00ff00"/><circle cx="481.1" cy="110.0" r="1.75" fill="#00ff00"/><circle cx="485.1" cy="108.5" r="1.75" fill="#00ff00"/><circle cx="489.0" cy="107.0" r="1.75" fill="#00ff00"/><circle cx="492.8" cy="105.2" r="1.75" fill="#00ff00"/><circle cx="496.7" cy="103.6" r="1.75" fill="#00ff00"/><circle cx="500.6" cy="102.2" r="1.75" fill="#00ff00"/><circle cx="504.4" cy="100.3" r="1.75" fill="#00ff00"/><circle cx="507.8" cy="97.9" r="1.75" fill="#00ff00"/><circle cx="512.0" cy="97.4" r="1.75" fill="#00ff00"/><circle cx="515.9" cy="96.2" r="1.75" fill="#00ff00"/><circle cx="519.4" cy="93.8" r="1.75" fill="#00ff00"/><circle cx="522.5" cy="91.0" r="1.75" fill="#00ff00"/><circle cx="526.4" cy="89.4" r="1.75" fill="#00ff00"/><circle cx="530.4" cy="88.3" r="1.75" fill="#00ff00"/><circle cx="534.3" cy="86.8" r="1.75" fill="#00ff00"/><circle cx="538.1" cy="84.9" r="1.75" fill="#00ff00"/><circle cx="542.1" cy="83.8" r="1.75" fill="#00ff00"/><circle cx="546.3" cy="83.6" r="1.75" fill="#00ff00"/><circle cx="550.3" cy="82.4" r="1.75" fill="#00ff00"/><circle cx="554.3" cy="81.4" r="1.75" fill="#00ff00"/><circle cx="558.4" cy="80.6" r="1.75" fill="#00ff00"/><circle cx="562.5" cy="79.7" r="1.75" fill="#00ff00"/><circle cx="566.7" cy="79.0" r="1.75" fill="#00ff00"/><circle cx="570.8" cy="78.5" r="1.75" fill="#00ff00"/><circle cx="575.0" cy="77.8" r="1.75" fill="#00ff00"/><circle cx="579.0" cy="76.7" r="1.75" fill="#00ff00"/><circle cx="583.2" cy="76.0" r="1.75" fill="#00ff00"/><circle cx="587.2" cy="75.0" r="1.75" fill="#00ff00"/><circle cx="591.3" cy="74.0" r="1.75" fill="#00ff00"/><circle cx="595.4" cy="73.0" r="1.75" fill="#00ff00"/><circle cx="599.5" cy="72.3" r="1.75" fill="#00ff00"/><circle cx="603.7" cy="72.0" r="1.75" fill="#00ff00"/><circle cx="607.8" cy="71.2" r="1.75" fill="#00ff00"/><circle cx="612.0" cy="70.8" r="1.75" fill="#00ff00"/><circle cx="616.2" cy="70.4" r="1.75" fill="#00ff00"/><circle cx="620.2" cy="69.3" r="1.75" fill="#00ff00"/><circle cx="620.9" cy="67.1" r="1.75" fill="#00ff00"/><circle cx="621.7" cy="64.9" r="1.75" fill="#00ff00"/><circle cx="622.6" cy="62.7" r="1.75" fill="#00ff00"/><circle cx="623.5" cy="60.5" r="1.75" fill="#00ff00"/><circle cx="624.5" cy="58.4" r="1.75" fill="#00ff00"/><circle cx="625.6" cy="56.3" r="1.75" fill="#00ff00"/><circle cx="626.8" cy="54.3" r="1.75" fill="#00ff00"/><circle cx="627.9" cy="52.3" r="1.75" fill="#00ff00"/><circle cx="629.1" cy="50.2" r="1.75" fill="#00ff00"/><circle cx="630.1" cy="48.1" r="1.75" fill="#00ff00"/><circle cx="630.7" cy="45.9" r="1.75" fill="#00ff00"/><circle cx="631.1" cy="43.6" r="1.75" fill="#00ff00"/><circle cx="634.8" cy="41.8" r="1.75" fill="#00ff00"/><circle cx="638.3" cy="39.6" r="1.75" fill="#00ff00"/><circle cx="642.0" cy="38.0" r="1.75" fill="#00ff00"/><circle cx="646.0" cy="36.7" r="1.75" fill="#00ff00"/><circle cx="650.0" cy="36.0" r="1.75" fill="#00ff00"/><circle cx="654.1" cy="35.5" r="1.75" fill="#00ff00"/><circle cx="658.1" cy="34.5" r="1.75" fill="#00ff00"/><circle cx="662.0" cy="33.3" r="1.75" fill="#00ff00"/><circle cx="665.8" cy="31.9" r="1.75" fill="#00ff00"/><circle cx="669.9" cy="31.4" r="1.75" fill="#00ff00"/><circle cx="673.8" cy="30.3" r="1.75" fill="#00ff00"/></g>
<path d="M407,15.5H435.7" stroke="#00ff00" stroke-width="1.15"/><circle cx="421.5" cy="15.5" r="2.3" fill="#00ff00"/>
<path d="M407,31.4H435.7" stroke="#0000ff" stroke-width="1.15"/><rect x="419.3" y="29.2" width="4.4" height="4.4" fill="#0000ff"/>
<text transform="translate(439.1,19.6) scale(0.94,1)">Zhang et al. (2021)</text>
<text transform="translate(439.1,35.6) scale(0.94,1)">This study</text>
<text transform="translate(362.9,120.5) rotate(-90) scale(0.945,1)" text-anchor="middle">Damage elements</text>
<text transform="translate(534.8,269.6) scale(0.94,1)" text-anchor="middle">Time (dimensionless)</text>
<text transform="translate(540.6,290.9) scale(1,1)" text-anchor="middle" font-size="15">(b)</text>
</svg>
</body></html>
